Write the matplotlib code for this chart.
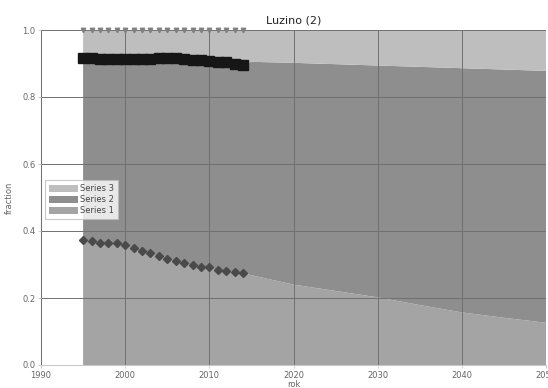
import matplotlib
matplotlib.use("Agg")
import matplotlib.pyplot as plt
import numpy as np
from matplotlib.patches import Patch

# ---- data ----
hist_years = [1995, 1996, 1997, 1998, 1999, 2000, 2001, 2002, 2003, 2004,
              2005, 2006, 2007, 2008, 2009, 2010, 2011, 2012, 2013, 2014]
hist_s1 = [0.373, 0.370, 0.365, 0.363, 0.363, 0.357, 0.348, 0.340, 0.334, 0.325,
           0.316, 0.310, 0.304, 0.298, 0.293, 0.292, 0.284, 0.281, 0.279, 0.274]
hist_s2 = [0.543, 0.545, 0.549, 0.550, 0.549, 0.555, 0.564, 0.573, 0.580, 0.591,
           0.601, 0.606, 0.609, 0.613, 0.616, 0.615, 0.621, 0.622, 0.620, 0.623]
hist_s3 = [0.084, 0.085, 0.086, 0.087, 0.088, 0.088, 0.088, 0.087, 0.086, 0.084,
           0.083, 0.084, 0.087, 0.089, 0.091, 0.093, 0.095, 0.097, 0.101, 0.103]

proj_years = [2015, 2020, 2025, 2030, 2035, 2040, 2045, 2050]
proj_s1 = [0.268, 0.240, 0.221, 0.202, 0.179, 0.157, 0.141, 0.126]
proj_s2 = [0.637, 0.662, 0.677, 0.692, 0.711, 0.729, 0.741, 0.752]
proj_s3 = [0.095, 0.098, 0.102, 0.106, 0.110, 0.114, 0.118, 0.122]

series_labels = ["Series 1", "Series 2", "Series 3"]
x_ticks = [1990, 2000, 2010, 2020, 2030, 2040, 2050]
y_ticks = [0.0, 0.2, 0.4, 0.6, 0.8, 1.0]
title = "Luzino (2)"

# ---- style ----
c1, c2, c3 = "#a4a4a4", "#8e8e8e", "#bebebe"
grid_c = "#707070"
txt_c = "#666666"

fig = plt.figure(figsize=(5.48, 3.88), dpi=100)
ax = fig.add_axes([41/548, 1 - 365/388, (546 - 41)/548, (365 - 30)/388])

years = hist_years + proj_years
s1 = hist_s1 + proj_s1
s2 = hist_s2 + proj_s2
s3 = hist_s3 + proj_s3
ax.stackplot(years, s1, s2, s3, colors=[c1, c2, c3], linewidth=0, zorder=1)

# markers on historical data
cum12 = np.array(hist_s1) + np.array(hist_s2)
cum123 = cum12 + np.array(hist_s3)
ax.plot(hist_years, hist_s1, linestyle="none", marker="D", markersize=4.4,
        color="#4a4a4a", zorder=4)
ax.plot(hist_years, cum12, linestyle="-", linewidth=6.5, marker="s", markersize=6.5,
        color="#161616", zorder=4, solid_capstyle="butt")
ax.plot(hist_years, cum123, linestyle="none", marker="v", markersize=3.2,
        color="#808080", zorder=4, clip_on=False)

ax.set_xlim(1990, 2050)
ax.set_ylim(0, 1.0)
ax.set_xticks(x_ticks)
ax.set_yticks(y_ticks)
ax.set_yticklabels([f"{v:.1f}" for v in y_ticks])
ax.grid(True, color=grid_c, linewidth=0.7, zorder=3)
ax.set_axisbelow(False)
for side in ["top", "right"]:
    ax.spines[side].set_visible(False)
for side in ["left", "bottom"]:
    ax.spines[side].set_color("#c8c8c8")
    ax.spines[side].set_linewidth(0.8)
ax.tick_params(axis="both", labelsize=6, colors="#c8c8c8", labelcolor=txt_c,
               length=2, width=0.6, pad=2)

ax.set_title(title, fontsize=8, color="#222222", pad=5)
ax.set_ylabel("fraction", fontsize=6, color=txt_c, labelpad=6)
ax.set_xlabel("rok", fontsize=6, color=txt_c, labelpad=0)

handles = [Patch(facecolor=c3, edgecolor="none"),
           Patch(facecolor=c2, edgecolor="none"),
           Patch(facecolor=c1, edgecolor="none")]
leg = ax.legend(handles, [series_labels[2], series_labels[1], series_labels[0]],
                loc="upper left", bbox_to_anchor=(0.003, 0.56), fontsize=6,
                frameon=True, fancybox=False, handlelength=3.4, handleheight=0.9,
                borderpad=0.5, labelspacing=0.25, handletextpad=0.3,
                borderaxespad=0.3)
leg.get_frame().set_edgecolor("#bbbbbb")
leg.get_frame().set_linewidth(0.8)
leg.set_zorder(5)
for t in leg.get_texts():
    t.set_color("#444444")

fig.savefig("out.png", dpi=100)
